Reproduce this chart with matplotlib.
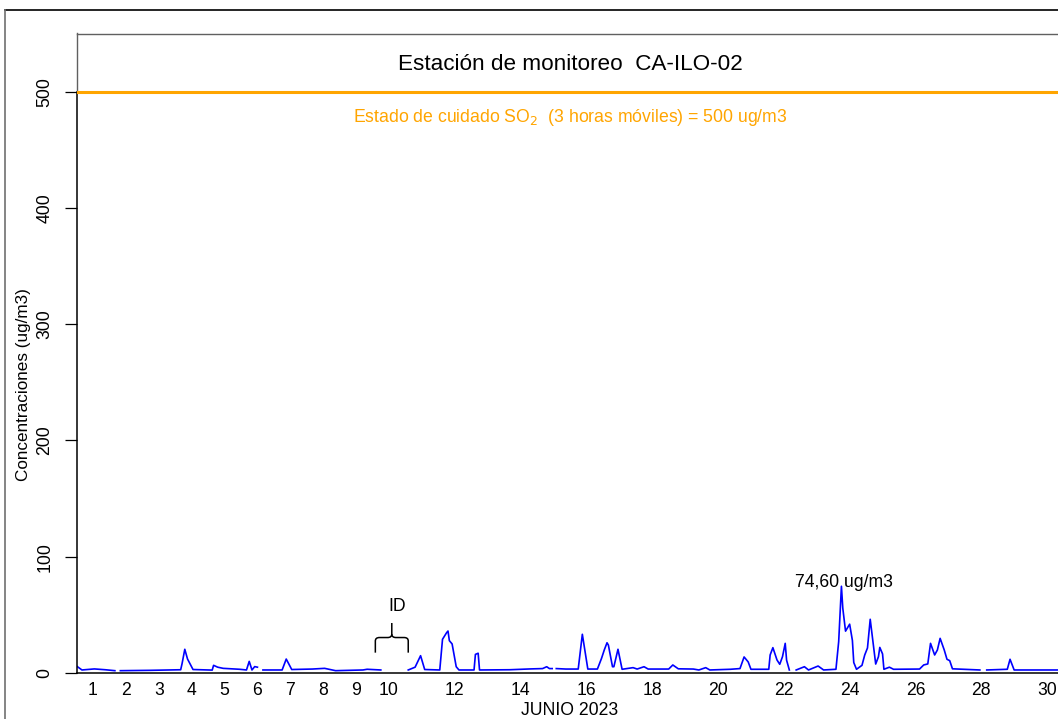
import numpy as np
import matplotlib
matplotlib.use("Agg")
import matplotlib.pyplot as plt
from matplotlib.lines import Line2D
from matplotlib.path import Path
from matplotlib.patches import PathPatch

plt.rcParams['font.family'] = ['Liberation Sans', 'DejaVu Sans']

NaN = np.nan

# SO2 readings, hours since 1 June 2023 00:00 (NaN = no data)
hora = [
    0, 4, 13, 21, 28, NaN,
    32, 54, 76, 77, 79, 81, 85, 99, 100, 103, 107, 119, 124, 126, 128, 130, 132, NaN,
    136, 150, 153, 157, 172, 181, 189, 209, 212, 222, NaN,
    242, 247, 251, 254, 265, 267, 270, 271, 272, 274, 277, 279, 290, 291, 293, 294,
    316, 331, 340, 343, 345, 347, NaN,
    350, 357, 366, 369, 373, 380, 383, 385, 387, 388, 391, 392, 395, 398, 406, 409,
    414, 417, 432, 435, 439, 450, 454, 459, 462, 477, 484, 487, 490, 492, 505, 506,
    508, 511, 513, 515, 517, 518, 520, NaN,
    525, 531, 534, 541, 545, 554, 556, 558, 559, 561, 564, 566, 567, 569, 573, 575,
    577, 579, 581, 583, 585, 586, 588, 589, 593, 596, 615, 618, 621, 623, 626, 628,
    630, 633, 635, 637, 639, 659, NaN,
    664, 679, 681, 684, 716, 720,
]
so2 = [
    6.0, 2.6, 3.5, 2.8, 2.0, NaN,
    2.0, 2.3, 2.8, 8.0, 20.4, 12.0, 3.0, 2.5, 6.6, 5.0, 4.0, 3.2, 2.6, 10.0, 2.6, 5.5, 5.0, NaN,
    2.6, 2.6, 12.0, 3.0, 3.4, 4.0, 2.0, 2.6, 3.2, 2.6, NaN,
    2.6, 5.0, 14.9, 3.0, 2.6, 29.0, 34.7, 36.1, 27.8, 25.0, 5.4, 2.6, 2.6, 16.0, 17.0, 2.6,
    2.8, 3.5, 3.8, 5.4, 3.8, 3.8, NaN,
    3.8, 3.4, 3.4, 33.3, 3.4, 3.4, 12.6, 19.8, 26.0, 24.0, 5.4, 5.4, 20.4, 3.2, 4.6, 3.4,
    5.4, 3.4, 3.4, 6.9, 3.6, 3.4, 2.6, 4.6, 2.6, 3.2, 3.8, 13.8, 9.5, 3.2, 3.2, 15.5,
    21.8, 11.2, 7.5, 14.0, 25.5, 11.0, 2.6, NaN,
    2.6, 5.4, 2.6, 6.0, 2.6, 3.2, 27.0, 74.6, 55.7, 36.0, 42.0, 28.0, 9.0, 3.2, 6.6, 15.5,
    21.5, 46.2, 27.0, 7.7, 14.0, 22.0, 16.4, 3.2, 5.0, 3.2, 3.4, 6.9, 7.8, 25.5, 15.5, 19.8,
    29.8, 19.8, 11.8, 10.6, 3.6, 2.6, NaN,
    2.6, 3.2, 11.8, 2.6, 2.6, 2.6,
]

dias = [1, 2, 3, 4, 5, 6, 7, 8, 9, 10, 12, 14, 16, 18, 20, 22, 24, 26, 28, 30]
y_ticks = [0, 100, 200, 300, 400, 500]
limite = 500
hueco_id = (222, 242)   # period without data, marked "ID"

W, H = 1058, 719
FS = 12.7
fig = plt.figure(figsize=(W / 100, H / 100), dpi=100)
ax = fig.add_axes([76.5 / W, 46 / H, 987 / W, 639.5 / H])

hora = np.array(hora, dtype=float)
so2 = np.array(so2, dtype=float)

ax.plot(hora, so2, color='#0000FF', lw=1.2, solid_joinstyle='round')
ax.axhline(limite, color='#FFA500', lw=2.2, zorder=3)

ax.set_xlim(0, 720)
ax.set_ylim(0, 550)

# frame: grey box, black axis lines
for s in ('top', 'right'):
    ax.spines[s].set_color('#606060')
    ax.spines[s].set_linewidth(1.0)
ax.spines['left'].set_color('black')
ax.spines['left'].set_linewidth(1.1)
ax.spines['left'].set_bounds(0, 500)
ax.spines['bottom'].set_color('black')
ax.spines['bottom'].set_linewidth(1.1)
ax.plot([0, 0], [500, 550], color='#606060', lw=1.0, clip_on=False)

ax.set_yticks(y_ticks)
ax.set_yticklabels([str(v) for v in y_ticks], rotation=90, va='center', fontsize=FS)
ax.tick_params(axis='y', length=8.6, width=0.9, pad=8)

ax.set_xticks([(d - 0.5) * 24 for d in dias])
ax.set_xticklabels([str(d) for d in dias], fontsize=FS)
ax.tick_params(axis='x', length=0, pad=6.5)

ax.set_xlabel('JUNIO 2023', fontsize=FS, labelpad=2)
ax.set_ylabel('Concentraciones (ug/m3)', fontsize=12.3)
ax.yaxis.set_label_coords((31 - 76.5) / 987, (673 - 385) / 639.5)

ax.text(360, 523, 'Estación de monitoreo  CA-ILO-02', ha='center', va='center', fontsize=16.2)
ax.text(360, 478, r'Estado de cuidado SO$_2$  (3 horas móviles) = 500 ug/m3',
        ha='center', va='center', fontsize=FS, color='#FFA500')

# maximum value label
i_max = int(np.nanargmax(so2))
ax.annotate(f'{so2[i_max]:.2f} ug/m3'.replace('.', ','), xy=(hora[i_max], so2[i_max]),
            xytext=(2, 3), textcoords='offset points', ha='center', va='center', fontsize=FS)

# curly brace over the gap without data
x0, x1 = hueco_id[0] - 4, hueco_id[1]
xm = (x0 + x1) / 2
yb, yh, yt = 17.5, 30.5, 43
r = 3.0
verts = [(x0, yb), (x0, yh - 3), (x0, yh), (x0 + r, yh),
         (xm - r, yh), (xm, yh), (xm, yh + 3), (xm, yt)]
codes = [Path.MOVETO, Path.LINETO, Path.CURVE3, Path.CURVE3,
         Path.LINETO, Path.CURVE3, Path.CURVE3, Path.LINETO]
ax.add_patch(PathPatch(Path(verts, codes), fill=False, lw=1.1, color='black'))
verts = [(x1, yb), (x1, yh - 3), (x1, yh), (x1 - r, yh),
         (xm + r, yh), (xm, yh), (xm, yh + 3)]
codes = [Path.MOVETO, Path.LINETO, Path.CURVE3, Path.CURVE3,
         Path.LINETO, Path.CURVE3, Path.CURVE3]
ax.add_patch(PathPatch(Path(verts, codes), fill=False, lw=1.1, color='black'))
ax.text(xm + 4, 56.8, 'ID', ha='center', va='center', fontsize=FS)

# outer border of the figure
fig.add_artist(Line2D([5 / W, 1.0], [1 - 10 / H, 1 - 10 / H], transform=fig.transFigure,
                      color='black', lw=1.2))
fig.add_artist(Line2D([5 / W, 5 / W], [0, 1 - 10 / H], transform=fig.transFigure,
                      color='#707070', lw=1.2))

fig.savefig('out.png', dpi=100)
